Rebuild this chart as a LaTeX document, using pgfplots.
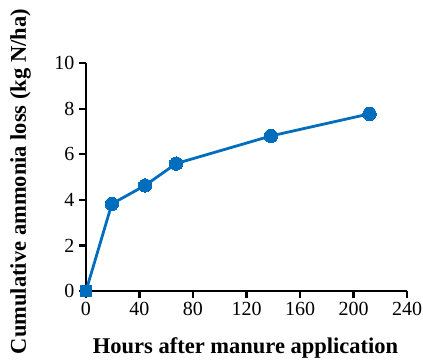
\documentclass[border=0pt]{standalone}
\usepackage{fontspec}
\setmainfont{Liberation Serif}
\usepackage{pgfplots}
\pgfplotsset{compat=1.18}
\definecolor{lineblue}{RGB}{0,110,189}
\begin{document}
\begin{tikzpicture}
\begin{axis}[
  scale only axis,
  width=321pt, height=228pt,
  xmin=0, xmax=240, ymin=0, ymax=10,
  axis lines=left,
  axis line style={-, line width=2.8pt},
  xtick={0,40,80,120,160,200,240},
  ytick={0,2,4,6,8,10},
  tick align=outside,
  major tick length=7pt,
  tick style={black, line width=2.2pt},
  /pgf/number format/assume math mode=true,
  xticklabel={\pgfmathprintnumber{\tick}},
  yticklabel={\pgfmathprintnumber{\tick}},
  ticklabel style={font=\rmfamily\fontsize{20}{22}\selectfont},
  xticklabel style={yshift=-1pt},
  yticklabel style={xshift=-1pt},
  label style={font=\fontsize{22.5}{25}\selectfont\bfseries},
  xlabel={Hours after manure application},
  ylabel={Cumulative ammonia loss (kg N/ha)},
  xlabel style={at={(axis description cs:0.497,-0.272)}, anchor=base},
  ylabel style={at={(axis description cs:-0.187,0.480)}, anchor=base, rotate=0},
  clip=false,
]
\addplot[lineblue, line width=2.8pt, mark=*, mark size=6.7pt, mark options={fill=lineblue, draw=lineblue, line width=0pt}]
  coordinates {(19.3,3.82) (44.2,4.63) (67.4,5.59) (138.2,6.80) (212,7.77)};
\addplot[lineblue, line width=2.8pt, forget plot]
  coordinates {(0,0) (19.3,3.82)};
\addplot[only marks, mark=square*, mark size=5.5pt, mark options={fill=lineblue, draw=lineblue, line width=0pt}]
  coordinates {(0,0)};
\end{axis}
\pgfresetboundingbox
\path[use as bounding box] (-86pt,-69pt) rectangle (337pt,291pt);
\end{tikzpicture}
\end{document}
